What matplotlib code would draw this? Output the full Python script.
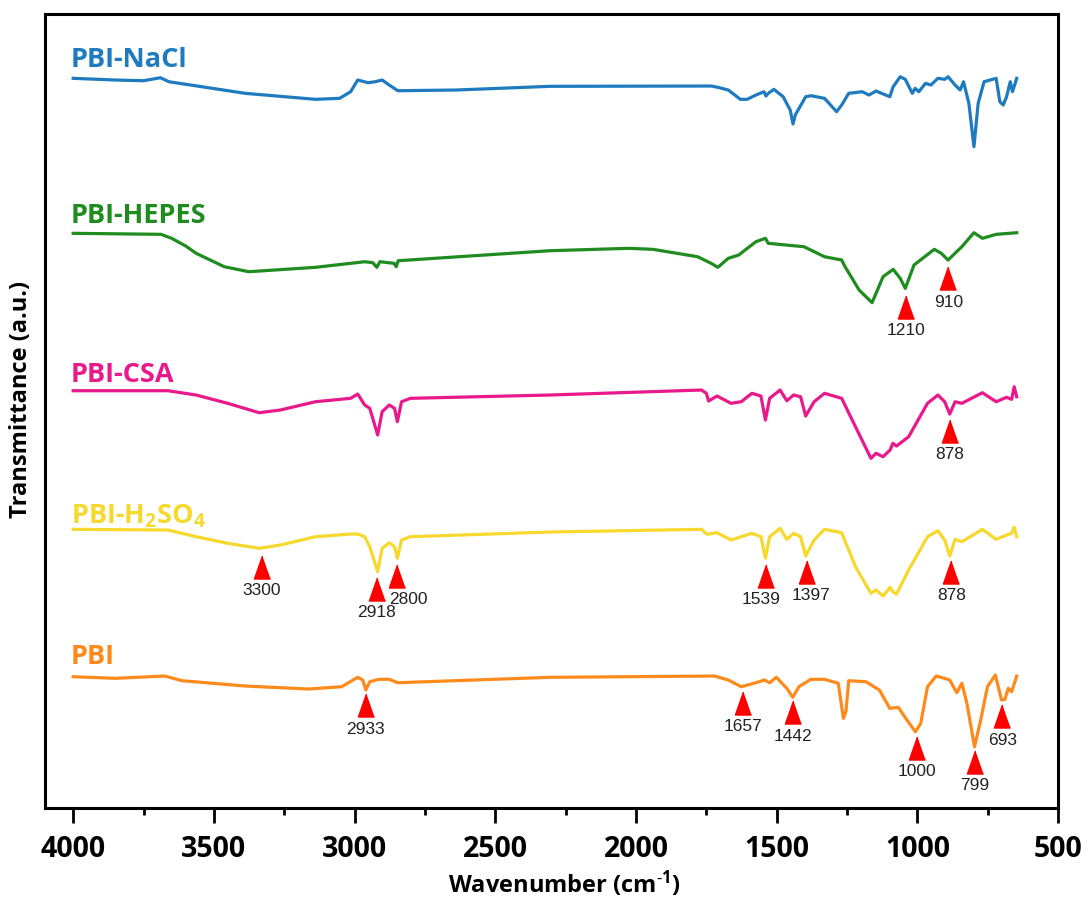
import matplotlib
matplotlib.use("Agg")
import matplotlib.pyplot as plt
import numpy as np

plt.rcParams['font.family'] = ['Open Sans', 'DejaVu Sans']
plt.rcParams['mathtext.default'] = 'regular'

# spectra: wavenumber (cm-1) and transmittance (a.u., stacked)
nacl_wn = [4000, 3850, 3750, 3690, 3660, 3389, 3139, 3053, 3014, 2989, 2952, 2927, 2902, 2877,
           2846, 2640, 2306, 1733, 1709, 1672, 1629, 1605, 1574, 1545, 1538, 1530, 1510, 1477,
           1452, 1442, 1434, 1397, 1378, 1330, 1287, 1269, 1244, 1196, 1172, 1147, 1098, 1086,
           1061, 1043, 1018, 1008, 995, 971, 952, 927, 903, 891, 866, 848, 836, 817, 799, 784,
           763, 720, 707, 695, 683, 670, 662, 647]
nacl_t = [729.7, 728, 727.3, 730.3, 726.3, 714.7, 708.7, 709.7, 716.3, 728, 725.3, 726.3, 728, 723,
          717.3, 718, 721.7, 722, 720.7, 718, 708.7, 708.7, 713, 716.3, 712, 714.7, 718.7, 711.3,
          698, 684, 693, 711.3, 712.3, 709.7, 696.3, 703, 714.7, 716.3, 713, 717, 711.3, 721.3,
          731.3, 728.7, 714.7, 719.7, 716.3, 724.7, 723, 729.7, 728.7, 731.3, 723, 718, 726.3, 704.7,
          661.3, 704.7, 726.3, 729.7, 706.3, 703, 711.3, 726.3, 716.3, 729.7]

hepes_wn = [4000, 3688, 3650, 3600, 3563, 3463, 3376, 3139, 2964, 2935, 2921, 2910, 2860, 2852,
            2845, 2306, 2026, 1940, 1781, 1733, 1709, 1672, 1635, 1574, 1540, 1530, 1403, 1330,
            1269, 1257, 1207, 1161, 1122, 1086, 1061, 1043, 1012, 940, 915, 891, 842, 799, 769,
            720, 647]
hepes_t = [574.7, 573.7, 569.7, 562, 554.7, 541.3, 536.3, 540.7, 546.3, 545.3, 540.7, 546.3, 544.7,
           541.3, 547.3, 557.3, 559.7, 558.7, 551.3, 544.7, 540.7, 549.7, 553, 566.3, 569.7, 564.7,
           561.3, 551.3, 548, 541.3, 518, 505.3, 531.3, 538.7, 529.7, 519.7, 543, 558.7, 554.7, 548,
           561.3, 575.3, 569.7, 573.7, 575.3]

csa_wn = [4000, 3663, 3563, 3451, 3339, 3264, 3139, 3014, 2989, 2964, 2946, 2918, 2902, 2877,
          2858, 2848, 2833, 2802, 2306, 1767, 1750, 1742, 1712, 1662, 1626, 1588, 1556, 1540,
          1525, 1488, 1464, 1440, 1415, 1397, 1367, 1330, 1269, 1220, 1165, 1147, 1122, 1097,
          1087, 1074, 1031, 964, 927, 903, 885, 866, 842, 769, 720, 683, 665, 656, 647]
csa_t = [417.3, 417.3, 413, 404.7, 395.3, 398, 406.3, 409.7, 414, 403, 399.7, 373, 396.3, 403,
         399.7, 386.3, 406.3, 409.7, 413, 418, 414.7, 407, 412, 404.7, 406.3, 414.7, 412, 388,
         409.7, 418, 407.3, 413, 411.3, 392, 406.3, 414.7, 409.7, 381.3, 349.7, 354.7, 351.3, 358,
         364.7, 362, 371.3, 404.7, 413, 406.3, 394, 406.3, 404.7, 415.3, 406.3, 410.7, 408.7, 421.3,
         411.3]

h2so4_wn = csa_wn
h2so4_t = [278.7, 278, 271.3, 264.7, 259.7, 263, 271.3, 274, 274, 271.3, 261.3, 236.3, 259.7, 265.3,
           261.3, 249.7, 268, 271.3, 276, 278.7, 274, 274, 275.3, 268, 271.3, 274.7, 271.3, 249.7,
           271.3, 279.7, 268.7, 274.7, 271.3, 252, 268, 278.7, 275.3, 241.3, 214.7, 218, 212, 220.7,
           216, 214, 238, 271.3, 277.3, 268, 252, 268.7, 266.3, 278.7, 268.7, 273, 274.7, 280.7,
           271.3]

pbi_wn = [4000, 3850, 3675, 3613, 3389, 3164, 3046, 2989, 2971, 2960, 2946, 2914, 2877, 2846,
          2306, 1721, 1672, 1626, 1574, 1543, 1525, 1501, 1464, 1443, 1421, 1379, 1330, 1281,
          1263, 1254, 1244, 1183, 1135, 1098, 1068, 1037, 1007, 988, 964, 933, 903, 885, 860,
          842, 824, 797, 775, 751, 723, 701, 689, 677, 665, 647]
pbi_t = [131.3, 129.7, 132, 127.3, 122, 119, 121.3, 130.7, 128, 118, 126.3, 128.7, 128.7, 125.3,
         130.7, 132, 128, 121.3, 125.3, 128, 125.3, 130.7, 119.7, 110.7, 121.3, 128.7, 128.7, 124.7,
         89.7, 96.3, 127.3, 126.3, 118, 99.7, 100.7, 88, 76.3, 84.7, 121.3, 132, 129.7, 128, 115.3,
         124.7, 104.7, 61.3, 88, 121.3, 133, 108, 108.7, 119.7, 116.3, 132]

series_names = ['PBI-NaCl', 'PBI-HEPES', 'PBI-CSA', 'PBI-H$_2$SO$_4$', 'PBI']
series_wn = [nacl_wn, hepes_wn, csa_wn, h2so4_wn, pbi_wn]
series_t = [nacl_t, hepes_t, csa_t, h2so4_t, pbi_t]
label_t = [741.3, 585, 426.3, 285, 143.7]
colors = ['#1f7bbf', '#1e8c1e', '#e8198b', '#f7d82c', '#ff8a1c']

# peak markers: position of the triangle and the printed wavenumber
peak_wn = [1040, 890, 885, 3329, 2921, 2848, 1537, 1391, 879, 2960, 1620, 1442, 1001, 797, 698]
peak_t = [501.3, 530, 377.2, 241.5, 219.5, 232.5, 232.5, 236.2, 236.2, 102.7, 105.2, 96, 60.3, 46.3, 91.8]
peak_text = ['1210', '910', '878', '3300', '2918', '2800', '1539', '1397', '878',
             '2933', '1657', '1442', '1000', '799', '693']
text_dx = {'2800': 11, '1539': -5, '1397': 4}

fig = plt.figure(figsize=(10.88, 8.99), dpi=100)
ax = fig.add_axes([0.0414, 0.1012, 0.9311, 0.8832])

for name, wn, t, lt, c in zip(series_names, series_wn, series_t, label_t, colors):
    ax.plot(wn, t, color=c, lw=2.3, solid_joinstyle='round')
    ax.text(4008, lt, name, color=c, fontsize=19.5, fontweight='bold', ha='left', va='baseline')

tri = [(0, 1), (-0.7, -1), (0.7, -1)]
ax.plot(peak_wn, peak_t, ls='none', marker=tri, markersize=16.6, color='#ff0000', zorder=5)
for x, y, s in zip(peak_wn, peak_t, peak_text):
    ax.annotate(s, (x, y), xytext=(text_dx.get(s, 0), -24), textcoords='offset pixels',
                ha='center', va='center', fontsize=12.5, color='#222222',
                family=['Liberation Sans', 'DejaVu Sans'])

ax.set_xlim(4100, 500)
ax.set_ylim(0, 794)
ax.set_xticks([4000, 3500, 3000, 2500, 2000, 1500, 1000, 500])
ax.set_xticks(np.arange(3750, 500, -500), minor=True)
ax.set_yticks([])
ax.tick_params(axis='x', which='major', direction='out', length=10.5, width=2, pad=9,
               labelsize=20.5)
ax.tick_params(axis='x', which='minor', direction='out', length=5, width=2)
for lbl in ax.get_xticklabels():
    lbl.set_fontweight('bold')
for sp in ax.spines.values():
    sp.set_linewidth(2.2)

ax.set_xlabel('Wavenumber (cm$^{\u2010 1}$)', fontsize=17, fontweight='bold')
ax.set_ylabel('Transmittance (a.u.)', fontsize=17, fontweight='bold')
ax.xaxis.set_label_coords(0.513, -0.077)
ax.yaxis.set_label_coords(-0.012, 0.515)

fig.savefig('out.png', dpi=100)
